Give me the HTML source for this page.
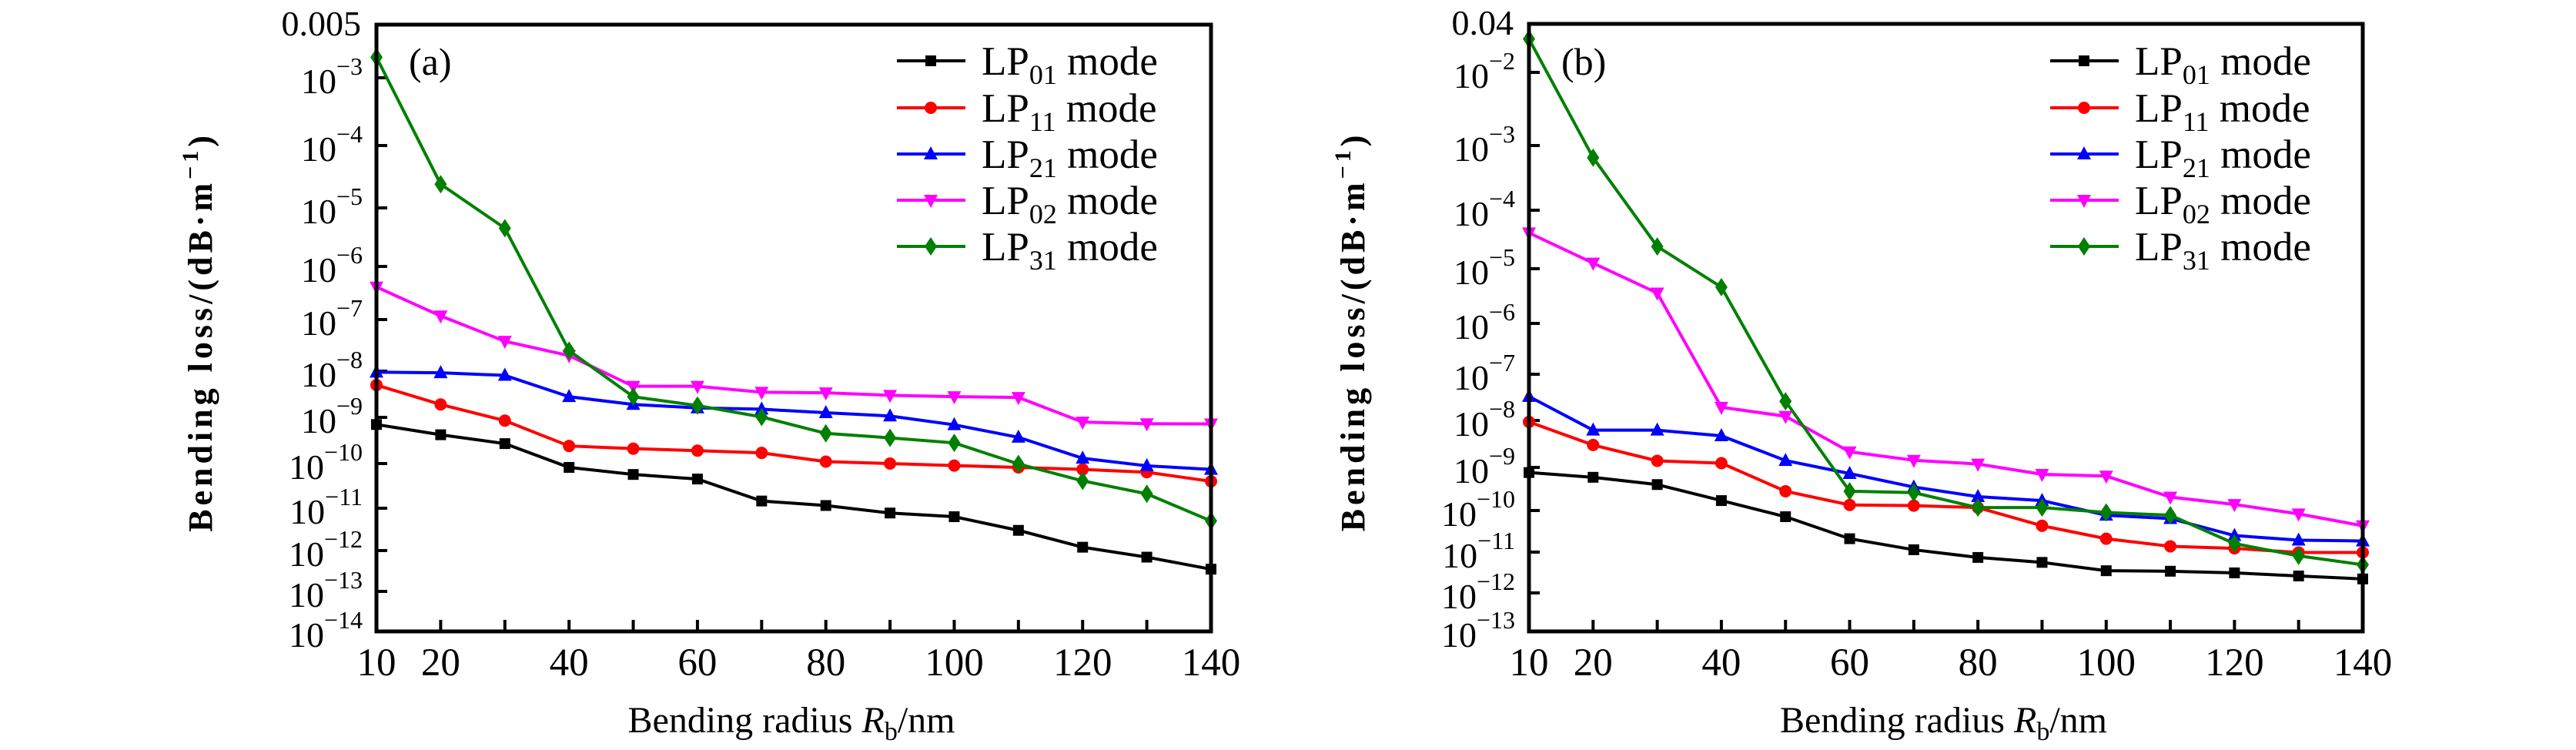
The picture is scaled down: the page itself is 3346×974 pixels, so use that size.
<!DOCTYPE html>
<html><head><meta charset="utf-8"><style>
html,body{margin:0;padding:0;background:#fff;}
svg{display:block;}
text{font-family:"Liberation Serif",serif;fill:#000;}
</style></head><body>
<svg id="chart" width="3346" height="974" viewBox="0 0 3346 974" xmlns="http://www.w3.org/2000/svg"></svg>
<script>
const radii = [10,20,30,40,50,60,70,80,90,100,110,120,130,140];
const modeNames = ["01","11","21","02","31"];
const a_LP01 = [7e-10,4.2e-10,2.7e-10,8.2e-11,5.7e-11,4.5e-11,1.45e-11,1.15e-11,7.7e-12,6.3e-12,3e-12,1.2e-12,6.9e-13,3.5e-13];
const a_LP11 = [5e-9,1.9e-9,8.5e-10,2.4e-10,2.1e-10,1.9e-10,1.7e-10,1.1e-10,1e-10,9e-11,8.2e-11,7.4e-11,6.4e-11,4e-11];
const a_LP21 = [9.5e-9,9.2e-9,8.1e-9,2.8e-9,1.9e-9,1.6e-9,1.5e-9,1.26e-9,1.07e-9,6.9e-10,3.7e-10,1.3e-10,8.9e-11,7.4e-11];
const a_LP02 = [4.1e-7,1.17e-7,3.8e-8,2e-8,4.7e-9,4.7e-9,3.5e-9,3.4e-9,3e-9,2.8e-9,2.7e-9,7.9e-10,7.3e-10,7.2e-10];
const a_LP31 = [1.86e-3,2.4e-5,4.5e-6,2.5e-8,2.8e-9,1.8e-9,1.02e-9,4.5e-10,3.6e-10,2.8e-10,9.8e-11,4.1e-11,2.1e-11,5e-12];
const b_LP01 = [7.6e-10,5.9e-10,4e-10,1.7e-10,7.1e-11,2.1e-11,1.14e-11,7.4e-12,5.6e-12,3.5e-12,3.4e-12,3.1e-12,2.6e-12,2.2e-12];
const b_LP11 = [9.3e-9,3e-9,1.38e-9,1.23e-9,2.8e-10,1.35e-10,1.3e-10,1.17e-10,4.3e-11,2.1e-11,1.38e-11,1.23e-11,9.8e-12,9.8e-12];
const b_LP21 = [3.3e-8,6.2e-9,6.2e-9,4.7e-9,1.4e-9,7.2e-10,3.5e-10,2.1e-10,1.7e-10,7.7e-11,6.4e-11,2.5e-11,1.94e-11,1.85e-11];
const b_LP02 = [4.1e-5,1.25e-5,3.6e-6,1.93e-8,1.23e-8,2.15e-9,1.42e-9,1.18e-9,6.9e-10,6.3e-10,2.05e-10,1.38e-10,8.3e-11,4.3e-11];
const b_LP31 = [2.6e-2,6.5e-4,2.4e-5,4.6e-6,2.6e-8,2.8e-10,2.6e-10,1.17e-10,1.17e-10,9e-11,7.7e-11,1.6e-11,8.1e-12,4.9e-12];
const xTickLabels = [10,20,40,60,80,100,120,140];
const a_yTopLabel = "0.005";
const b_yTopLabel = "0.04";
const a_yExps = [-3,-4,-5,-6,-7,-8,-9,-10,-11,-12,-13,-14];
const b_yExps = [-2,-3,-4,-5,-6,-7,-8,-9,-10,-11,-12,-13];

const NS="http://www.w3.org/2000/svg";
const svg=document.getElementById('chart');
function el(tag,attrs,parent){const e=document.createElementNS(NS,tag);for(const k in attrs)e.setAttribute(k,attrs[k]);(parent||svg).appendChild(e);return e;}
const colors=["#000000","#ff0000","#0000ff","#ff00ff","#008000"];
const shapes=["square","circle","up","down","diamond"];

function marker(g,shape,x,y,c){
  let m;
  if(shape==="square") m=el('rect',{x:x-7,y:y-7,width:14,height:14,fill:c},g);
  else if(shape==="circle") m=el('circle',{cx:x,cy:y,r:8,fill:c},g);
  else if(shape==="up") m=el('polygon',{points:`${x},${y-10} ${x-9},${y+7} ${x+9},${y+7}`,fill:c},g);
  else if(shape==="down") m=el('polygon',{points:`${x},${y+10} ${x-9},${y-7} ${x+9},${y-7}`,fill:c},g);
  else m=el('polygon',{points:`${x},${y-12} ${x+8},${y} ${x},${y+12} ${x-8},${y}`,fill:c},g);
  return m;
}

function panel(cfg){
  const {id,L,R,T,B,topVal,topLabel,exps,tickYs,series,legX,tag}=cfg;
  const g=el('g',{});
  
  
  const xs=v=>L+(v-10)/130*(R-L);
  const knotsV=[Math.log10(topVal)].concat(exps);
  const knotsY=[T].concat(tickYs);
  const ys=v=>{const lv=Math.log10(v);
    for(let i=0;i<knotsV.length-1;i++){ if(lv<=knotsV[i]&&lv>=knotsV[i+1]){return knotsY[i]+(knotsV[i]-lv)/(knotsV[i]-knotsV[i+1])*(knotsY[i+1]-knotsY[i]);} }
    if(lv>knotsV[0]) return T; return B;};
  radii.forEach(r=>{const t=el('line',{x1:xs(r),x2:xs(r),y1:B,y2:B-15,stroke:'#000','stroke-width':4},g);
    });
  xTickLabels.forEach(v=>{const t=el('text',{x:xs(v),y:877,'font-size':51,'text-anchor':'middle'},g);t.textContent=v;
    });
  exps.forEach((e,i)=>{const y=tickYs[i];
    if(i<exps.length-1){const t=el('line',{x1:L,x2:L+14,y1:y,y2:y,stroke:'#000','stroke-width':4},g);
      }
    const t=el('text',{x:L-18,y:y+20,'font-size':46,'text-anchor':'end'},g);
    
    const s1=el('tspan',{},t);s1.textContent='10';
    const s2=el('tspan',{dy:-24,'font-size':32},t);s2.textContent='\u2212'+(-e);
  });
  const tl=el('text',{x:L-20,y:T+14,'font-size':46,'text-anchor':'end'},g);tl.textContent=topLabel;
  
  series.forEach((vals,si)=>{
    const sg=el('g',{},g);
    
    
    const pts=vals.map((v,i)=>xs(radii[i])+','+ys(v)).join(' ');
    el('polyline',{points:pts,fill:'none',stroke:colors[si],'stroke-width':4},sg);
    vals.forEach((v,i)=>{const m=marker(sg,shapes[si],xs(radii[i]),ys(v),colors[si]);
      });
  });
  const f=el('rect',{x:L,y:T,width:R-L,height:B-T,fill:'none',stroke:'#000','stroke-width':5},g);
  
  const lg=el('g',{},g);
  
  [79,140,200,260,320].forEach((y,i)=>{
    const eg=el('g',{},lg);
    
    el('line',{x1:legX,x2:legX+89,y1:y,y2:y,stroke:colors[i],'stroke-width':4},eg);
    marker(eg,shapes[i],legX+44,y,colors[i]);
    const t=el('text',{x:legX+110,y:y+18,'font-size':53},eg);
    const a=el('tspan',{},t);a.textContent='LP';
    const b=el('tspan',{dy:12,'font-size':36},t);b.textContent=modeNames[i];
    const c=el('tspan',{dy:-12},t);c.textContent=' mode';
  });
  const pt=el('text',{x:L+42,y:97,'font-size':50},g);pt.textContent=tag;
  
  const xt=el('text',{x:(L+R)/2-3,y:951,'font-size':48,'text-anchor':'middle'},g);
  
  const x1=el('tspan',{},xt);x1.textContent='Bending radius ';
  const x2=el('tspan',{'font-style':'italic'},xt);x2.textContent='R';
  const x3=el('tspan',{dy:10,'font-size':34},xt);x3.textContent='b';
  const x4=el('tspan',{dy:-10},xt);x4.textContent='/nm';
  const yx=L-214, yc=(T+B)/2+5;
  const yt=el('text',{x:yx,y:yc,'font-size':44,'text-anchor':'middle','font-weight':'bold','letter-spacing':'5',transform:`rotate(-90 ${yx} ${yc})`},g);
  
  const y1=el('tspan',{},yt);y1.textContent='Bending loss/(dB\u00B7m';
  const y2=el('tspan',{dy:-18,'font-size':30},yt);y2.textContent='\u22121';
  const y3=el('tspan',{dy:18},yt);y3.textContent=')';
}

panel({id:'a',L:489,R:1573,T:32,B:820,topVal:0.005,topLabel:a_yTopLabel,exps:a_yExps,
  tickYs:[101,189,270,346,415,482,542,602,660,715,768,820],
  series:[a_LP01,a_LP11,a_LP21,a_LP02,a_LP31],legX:1165,tag:'(a)'});
panel({id:'b',L:1986,R:3069,T:31,B:820,topVal:0.04,topLabel:b_yTopLabel,exps:b_yExps,
  tickYs:[94,189,273,349,420,486,546,607,663,717,770,820],
  series:[b_LP01,b_LP11,b_LP21,b_LP02,b_LP31],legX:2663,tag:'(b)'});
</script>
</body></html>
